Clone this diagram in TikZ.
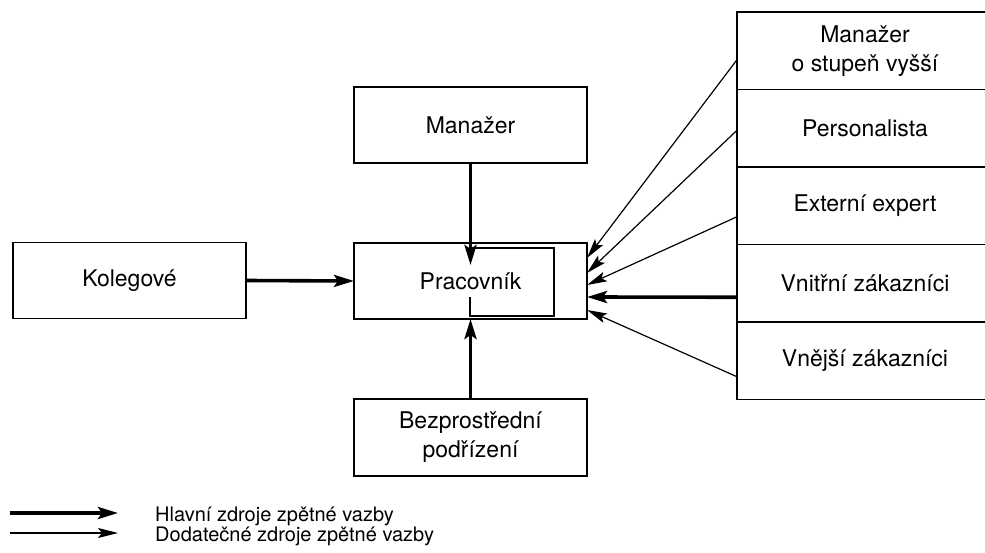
\documentclass[tikz,border=0pt]{standalone}
\usepackage{fontspec}
\setmainfont{TeX Gyre Heros}
\usetikzlibrary{arrows.meta,positioning,calc}
\tikzset{
  box/.style={draw, line width=1.3pt, minimum width=233pt, minimum height=76pt,
              inner sep=0pt, outer sep=0pt, align=center,
              font=\fontsize{23}{29}\selectfont},
  srcbox/.style={box, minimum width=256pt, minimum height=77.5pt, anchor=north west},
  mainarrow/.style={line width=3.6pt, -{Stealth[length=20pt,width=12pt,inset=4pt]}},
  sidearrow/.style={line width=1.2pt, -{Stealth[length=20pt,width=10pt,inset=4pt]}},
  legendtext/.style={anchor=base west, inner sep=0pt, font=\fontsize{20}{24}\selectfont},
}

\begin{document}
\begin{tikzpicture}[x=1pt, y=-1pt]
    \useasboundingbox (0,0) rectangle (985,553);
    \clip (0,0) rectangle (985,553);
    \node[box] (peers) at (129.5, 280.5) {Kolegové};
    \node[box] (work) at (470.5, 281) {Pracovník};
    \node[box] (boss) at (470.5, 125) {Manažer};
    \node[box, minimum height=77pt] (sub) at (470.5, 437.5) {Bezprostřední\\podřízení};
    \node[srcbox] (r1) at (737, 12) {Manažer\\o stupeň vyšší};
    \node[srcbox, below=0pt of r1] (r2) {Personalista};
    \node[srcbox, below=0pt of r2] (r3) {Externí expert};
    \node[srcbox, below=0pt of r3] (r4) {Vnitřní zákazníci};
    \node[srcbox, below=0pt of r4] (r5) {Vnější zákazníci};
    % inner frame in the worker box
    \draw[line width=1.3pt] (470,257) -- (470,248) -- (554,248) -- (554,316) -- (470,316) -- (470,297);
    \draw[mainarrow] (peers.east) -- (work.west);
    \draw[mainarrow] (boss.south) -- ($(work.north)+(0,22)$);
    \draw[mainarrow] (sub.north) -- (work.south);
    \draw[mainarrow] ($(r4.west)+(0,14)$) -- ($(work.east)+(0,16)$);
    \draw[sidearrow] ($(r1.west)+(0,9)$) -- ($(work.east)+(0,-23)$);
    \draw[sidearrow] ($(r2.west)+(0,2)$) -- ($(work.east)+(0,-8)$);
    \draw[sidearrow] ($(r3.west)+(0,11)$) -- ($(work.east)+(0,4)$);
    \draw[sidearrow] ($(r5.west)+(0,16)$) -- ($(work.east)+(0,29)$);
    % legend
    \coordinate (m0) at (10,513);
    \coordinate (m1) at (118,513);
    \coordinate (s0) at (10,533);
    \coordinate (s1) at (118,533);
    \draw[mainarrow] (m0) -- (m1);
    \draw[sidearrow] (s0) -- (s1);
    \node[legendtext] (l0) at (155,521) {Hlavní zdroje zpětné vazby};
    \node[legendtext] (l1) at (155,541) {Dodatečné zdroje zpětné vazby};
  \end{tikzpicture}
\end{document}
